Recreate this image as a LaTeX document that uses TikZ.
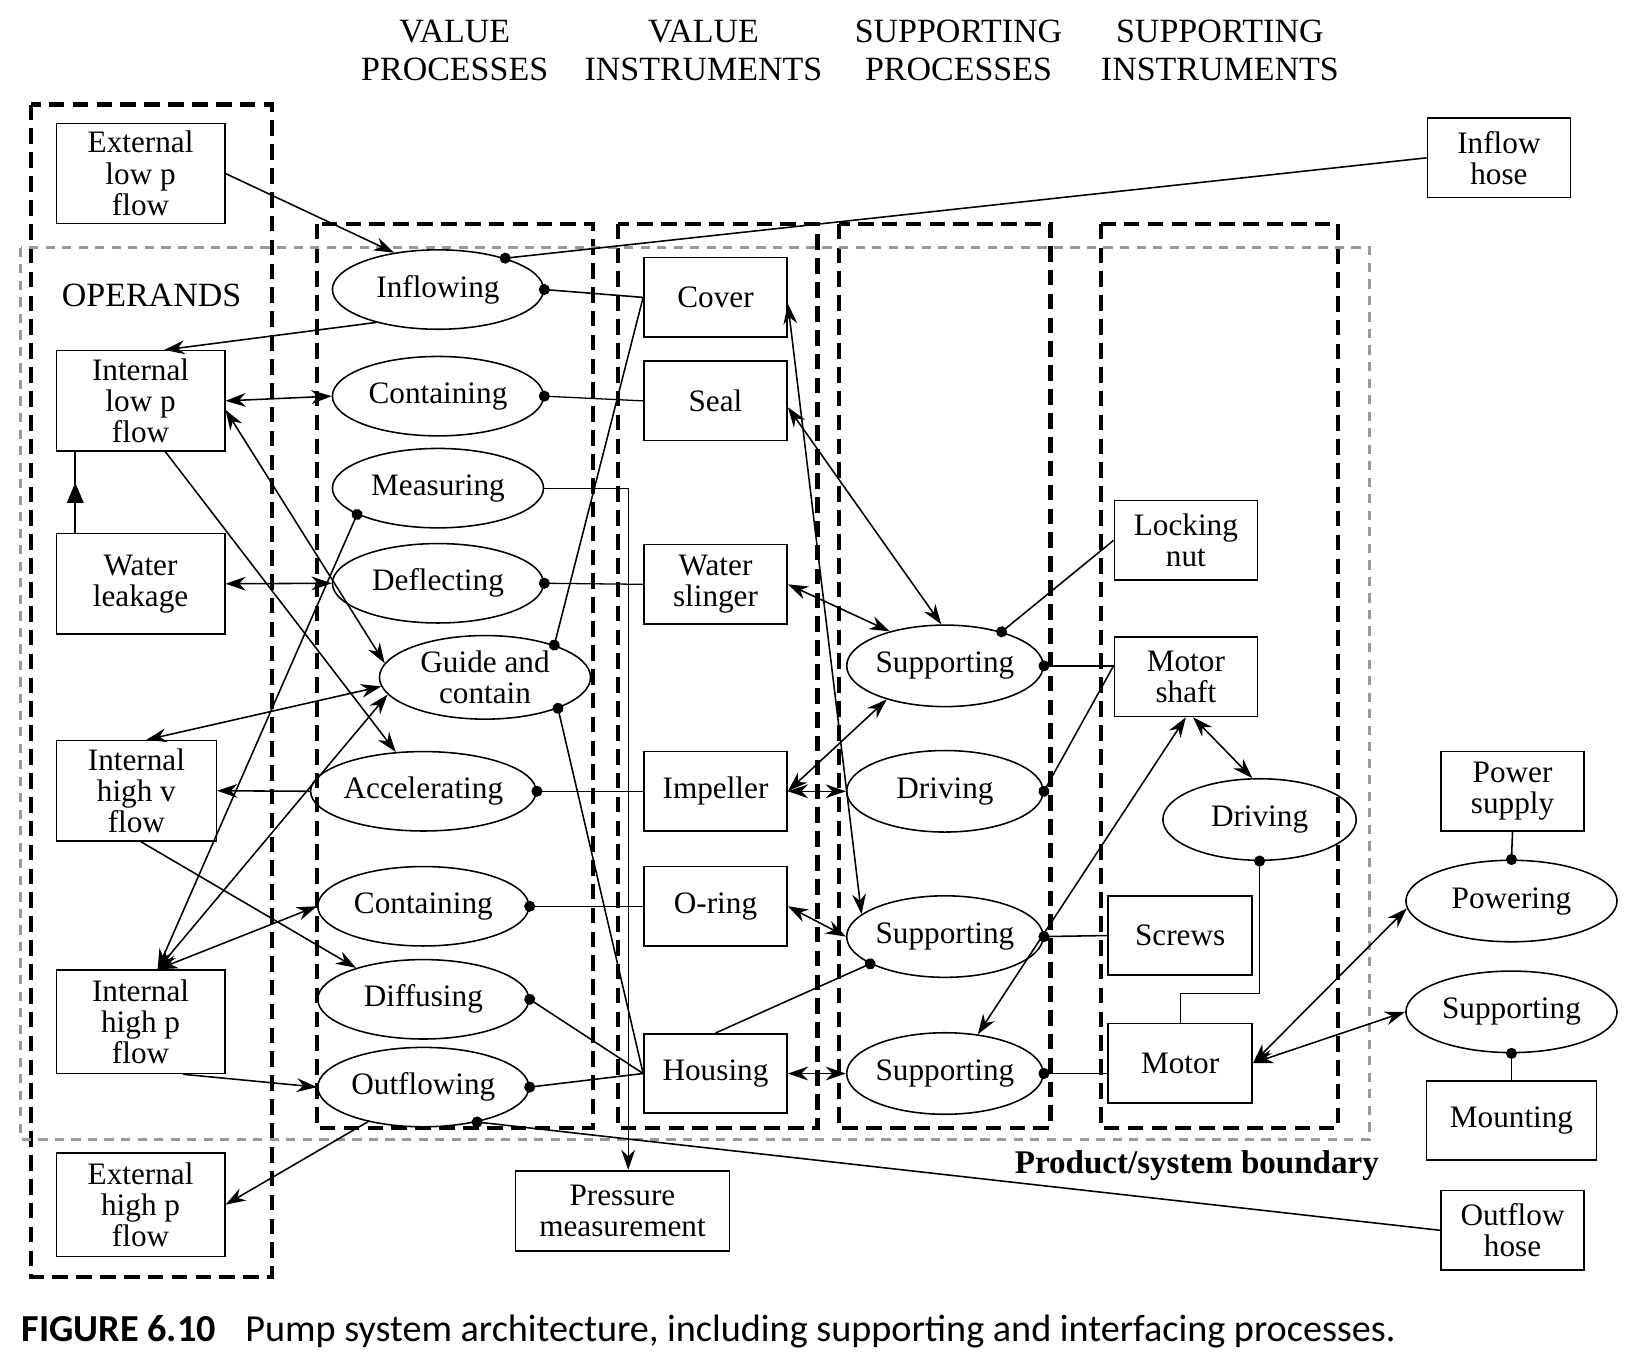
\documentclass[tikz,border=0pt]{standalone}
\usepackage{fontspec}
\setmainfont{Liberation Serif}
\newfontfamily\capfont{Carlito}
\usetikzlibrary{arrows.meta,shapes.geometric,decorations.markings}

\begin{document}
\begin{tikzpicture}[x=0.02cm,y=-0.02cm,font=\fontsize{17}{17}\selectfont,
  >={Stealth[length=11pt,width=7.5pt]},line width=0.85pt,
  opnd/.style={draw,align=center,minimum width=3.22cm,minimum height=1.92cm,inner sep=1pt},
  instr/.style={draw,align=center,minimum width=2.74cm,minimum height=1.52cm,inner sep=1pt},
  proc/.style={draw,ellipse,align=center,minimum width=4.04cm,minimum height=1.52cm,inner sep=0pt},
  sproc/.style={proc,minimum width=3.76cm,minimum height=1.56cm},
  zone/.style={draw,line width=2.3pt,dash pattern=on 8.5pt off 4.5pt},
  bound/.style={draw=black!40,line width=1.6pt,dash pattern=on 5pt off 4pt},
  head/.style={align=center,font=\fontsize{18.5}{20.5}\selectfont},
  dotl/.style={{Circle[length=6pt]}-,shorten <=-3pt},
  dotto/.style={{Circle[length=6pt]}->,shorten <=-3pt},
  midup/.style={postaction={decorate},decoration={markings,
    mark=at position 0.62 with {\arrow{Triangle[length=11pt,width=9pt]}}}}]
\useasboundingbox (0,0) rectangle (1568,1311);

\node[head] (hvp) at (435,48) {VALUE\\PROCESSES};
\node[head] (hvi) at (673,48) {VALUE\\INSTRUMENTS};
\node[head] (hsp) at (917,48) {SUPPORTING\\PROCESSES};
\node[head] (hsi) at (1167,48) {SUPPORTING\\INSTRUMENTS};

\draw[zone] (30,100) rectangle (260,1222);
\draw[zone] (303,214) rectangle (567,1079);
\draw[zone] (591,214) rectangle (782,1079);
\draw[zone] (803,214) rectangle (1005,1079);
\draw[zone] (1053,214) rectangle (1280,1079);
\draw[bound] (20,237) rectangle (1310,1090);
\node[font=\fontsize{18.5}{20}\selectfont] (opnds) at (145,283) {OPERANDS};
\node[font=\fontsize{18}{18}\selectfont\bfseries] (psb) at (1145,1115) {Product/system boundary};

\node[opnd] (extlow) at (134.5,166) {External\\low p\\flow};
\node[opnd] (intlow) at (134.5,383.5) {Internal\\low p\\flow};
\node[opnd] (leak) at (134.5,558.5) {Water\\leakage};
\node[opnd,minimum width=3.06cm] (inthv) at (130.5,756.5) {Internal\\high v\\flow};
\node[opnd,minimum height=1.98cm] (inthp) at (134.5,977.5) {Internal\\high p\\flow};
\node[opnd,minimum height=1.98cm] (exthp) at (134.5,1152.5) {External\\high p\\flow};

\node[proc] (infl) at (419,277) {Inflowing};
\node[proc] (cont1) at (419,379) {Containing};
\node[proc] (meas) at (419,467) {Measuring};
\node[proc] (defl) at (419,558) {Deflecting};
\node[proc,minimum height=1.6cm] (guide) at (464,648) {Guide and\\contain};
\node[proc] (accel) at (405,757) {Accelerating};
\node[proc] (cont2) at (405,867) {Containing};
\node[proc] (diff) at (405,956) {Diffusing};
\node[proc] (outfl) at (405,1040) {Outflowing};

\node[instr] (cover) at (684.5,284.5) {Cover};
\node[instr] (seal) at (684.5,383.5) {Seal};
\node[instr] (sling) at (684.5,559) {Water\\slinger};
\node[instr] (imp) at (684.5,757) {Impeller};
\node[instr] (oring) at (684.5,867) {O-ring};
\node[instr] (housing) at (684.5,1027) {Housing};

\node[sproc] (sup1) at (904,637) {Supporting};
\node[sproc] (drive1) at (904,757) {Driving};
\node[sproc] (sup2) at (904,896) {Supporting};
\node[sproc] (sup3) at (904,1027) {Supporting};

\node[instr] (lock) at (1134.5,517) {Locking\\nut};
\node[instr] (mshaft) at (1134.5,647.5) {Motor\\shaft};
\node[sproc,minimum width=3.7cm] (drive2) at (1205,784) {Driving};
\node[instr,minimum width=2.76cm] (screws) at (1129,895) {Screws};
\node[instr,minimum width=2.76cm] (motor) at (1129,1017) {Motor};

\node[instr] (inhose) at (1434,151) {Inflow\\hose};
\node[instr] (psupply) at (1447,757) {Power\\supply};
\node[proc,minimum height=1.56cm] (pow) at (1446,862) {Powering};
\node[proc,minimum height=1.56cm] (supext) at (1446,968) {Supporting};
\node[instr,minimum width=3.26cm] (mount) at (1446,1072) {Mounting};
\node[instr] (outhose) at (1447,1177) {Outflow\\hose};
\node[instr,minimum width=4.1cm,minimum height=1.54cm] (press) at (595.5,1158.5) {Pressure\\measurement};

\draw[->] (extlow.east) -- (infl.140);
\draw[dotl] (infl.25) -- (inhose.west);
\draw[dotl] (infl.east) -- (cover.west);
\draw[->] (infl.208) -- (intlow.65);
\draw[<->] (intlow.east) -- (cont1.west);
\draw[dotl,line width=0.7pt] (cont1.east) -- (seal.west);
\draw[->,line width=0.6pt] (meas.east) -| ([xshift=0.11cm]press.north);
\draw[dotto] (meas.198) -- (inthp.72);
\draw[<->] (leak.east) -- (defl.west);
\draw[dotl,line width=0.7pt] (defl.east) -- (sling.west);
\draw[midup] ([xshift=-1.25cm]leak.north) -- ([xshift=-1.25cm]intlow.south);
\draw[->] (intlow.-64) -- (accel.125);
\draw[<->] (intlow.-6) -- (guide.172);
\draw[<->] (inthv.79) -- (guide.185);
\draw[<->] (inthp.72) -- (guide.190);
\draw[->] (accel.west) -- (inthv.east);
\draw[dotl,line width=0.7pt] (accel.east) -- (imp.west);
\draw[->] (inthv.-85) -- (diff.155);
\draw[<->] (inthp.72) -- (cont2.west);
\draw[dotl,line width=0.7pt] (cont2.east) -- (oring.west);
\draw[dotl] (diff.east) -- (housing.west);
\draw[->] (inthp.-51) -- (outfl.west);
\draw[dotl] (outfl.east) -- (housing.west);
\draw[->] (outfl.212) -- (exthp.east);
\draw[dotl] (outfl.-33) -- (outhose.west);
\draw[dotl] (guide.25) -- (cover.west);
\draw[dotl] (guide.-23) -- (housing.west);

\draw[<->] (cover.-5) -- (sup2.165);
\draw[<->] (seal.-5) -- (sup1.95);
\draw[<->] (sling.east) -- (sup1.148);
\draw[<->] (imp.east) -- (sup1.210);
\draw[<->] (imp.east) -- (drive1.west);
\draw[<->] (oring.east) -- (sup2.west);
\draw[dotl] (sup2.200) -- (housing.north);
\draw[<->] (housing.east) -- (sup3.west);
\draw[dotl] (sup1.31) -- (lock.west);
\draw[dotl] (sup1.east) -- (sup1.east -| mshaft.west);
\draw[dotl] (drive1.east) -- (sup1.east -| mshaft.west);
\draw[dotl] (sup2.east) -- (screws.west);
\draw[dotl] (sup3.east) -- (sup3.east -| motor.west);
\draw[<->] (sup3.50) -- (mshaft.south);
\draw[<->] (mshaft.-80) -- (drive2.100);
\draw[dotl,line width=0.6pt] (drive2.south) -- ++(0,127) -| (motor.north);
\draw[<->] (motor.east) -- (pow.184);
\draw[<->] (motor.east) -- (supext.west);
\draw[dotl] (pow.north) -- (psupply.south);
\draw[dotl] (supext.south) -- (mount.north);

\node[anchor=west,inner sep=0pt,font=\capfont\fontsize{20.8}{22}\selectfont] (cap) at (20,1274)
  {\textbf{FIGURE 6.10}\hspace{0.55em} Pump system architecture, including supporting and interfacing processes.};
\end{tikzpicture}
\end{document}
